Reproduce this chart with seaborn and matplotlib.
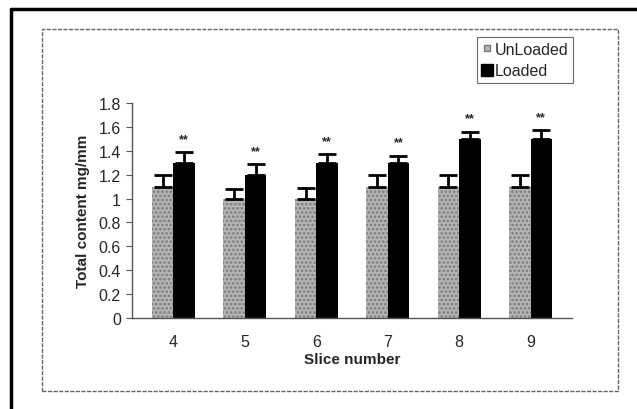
import numpy as np
import pandas as pd
import matplotlib
matplotlib.use("Agg")
import matplotlib.pyplot as plt
from matplotlib.lines import Line2D
from matplotlib.patches import Rectangle
import seaborn as sns

# values
slices = ["4", "5", "6", "7", "8", "9"]
unloaded = [1.1, 1.0, 1.0, 1.1, 1.1, 1.1]
unloaded_err = [0.10, 0.08, 0.09, 0.10, 0.10, 0.10]
loaded = [1.3, 1.2, 1.3, 1.3, 1.5, 1.5]
loaded_err = [0.09, 0.09, 0.07, 0.06, 0.06, 0.07]
groups = ["UnLoaded", "Loaded"]

df = pd.DataFrame({
    "slice": slices * 2,
    "value": unloaded + loaded,
    "group": [groups[0]] * len(slices) + [groups[1]] * len(slices),
})

sns.set_style("white")
plt.rcParams["font.family"] = ["Liberation Sans", "DejaVu Sans"]
plt.rcParams["hatch.linewidth"] = 1.2

fig = plt.figure(figsize=(6.37, 4.10), dpi=100)
W, H = 637, 410
ax = fig.add_axes([132 / W, 1 - 319 / H, (572 - 132) / W, (319 - 104) / H])

sns.barplot(data=df, x="slice", y="value", hue="group", hue_order=groups,
            palette=["#b4b4b4", "black"], width=0.6, errorbar=None,
            legend=False, ax=ax, saturation=1)

# stippled look for unloaded bars
for p in ax.containers[0]:
    p.set_hatch("....")
    p.set_edgecolor("#7a7a7a")
    p.set_linewidth(0)
for p in ax.containers[1]:
    p.set_edgecolor("black")
    p.set_linewidth(0)

errs = [unloaded_err, loaded_err]
for cont, err in zip(ax.containers, errs):
    xs = [p.get_x() + p.get_width() / 2 for p in cont]
    hs = [p.get_height() for p in cont]
    ax.errorbar(xs, hs, yerr=[np.zeros(len(err)), err], fmt="none",
                ecolor="black", elinewidth=2, capsize=6.5, capthick=2)
    if cont is ax.containers[1]:
        for x, h, e in zip(xs, hs, err):
            ax.text(x, h + e + 0.06, "**", ha="center", va="bottom",
                    fontsize=9, fontweight="bold")

ax.set_ylim(0, 1.8)
ax.set_yticks(np.arange(0, 1.81, 0.2))
ax.set_yticklabels(["0", "0.2", "0.4", "0.6", "0.8", "1", "1.2", "1.4", "1.6", "1.8"])
ax.tick_params(axis="y", left=True, length=4, width=0.8, color="#555555",
               labelsize=11.5, pad=4)
ax.tick_params(axis="x", bottom=False, labelsize=11.5, pad=8)

ax.set_xlabel("Slice number", fontsize=11, fontweight="bold", labelpad=2)
ax.set_ylabel("Total content mg/mm", fontsize=11, fontweight="bold", labelpad=6)

sns.despine(ax=ax)
for s in ["left", "bottom"]:
    ax.spines[s].set_color("#555555")
    ax.spines[s].set_linewidth(1)

# legend box
handles = [
    Line2D([], [], marker="s", linestyle="none", markersize=4,
           markerfacecolor="#b4b4b4", markeredgecolor="#777777"),
    Line2D([], [], marker="s", linestyle="none", markersize=9,
           markerfacecolor="black", markeredgecolor="black"),
]
leg = fig.legend(handles, groups, loc="upper left",
                 bbox_to_anchor=(469 / W, 1 - 30 / H), frameon=True,
                 fontsize=11.5, handlelength=0.6, handletextpad=0.2,
                 borderpad=0.3, labelspacing=0.4, fancybox=False)
leg.get_frame().set_edgecolor("#444444")
leg.get_frame().set_linewidth(0.8)

# dotted inner frame
fig.add_artist(Rectangle((42 / W, 1 - 392 / H), (618 - 42) / W, (392 - 30) / H,
                         transform=fig.transFigure, fill=False,
                         edgecolor="#666666", linestyle=(0, (3, 1)), linewidth=1))
# outer black frame
fig.add_artist(Line2D([11 / W, 11 / W], [0, 1 - 10 / H], transform=fig.transFigure,
                      color="black", linewidth=2.5))
fig.add_artist(Line2D([11 / W, 1], [1 - 10 / H, 1 - 10 / H], transform=fig.transFigure,
                      color="black", linewidth=2.5))

plt.savefig("out.png", dpi=100)
